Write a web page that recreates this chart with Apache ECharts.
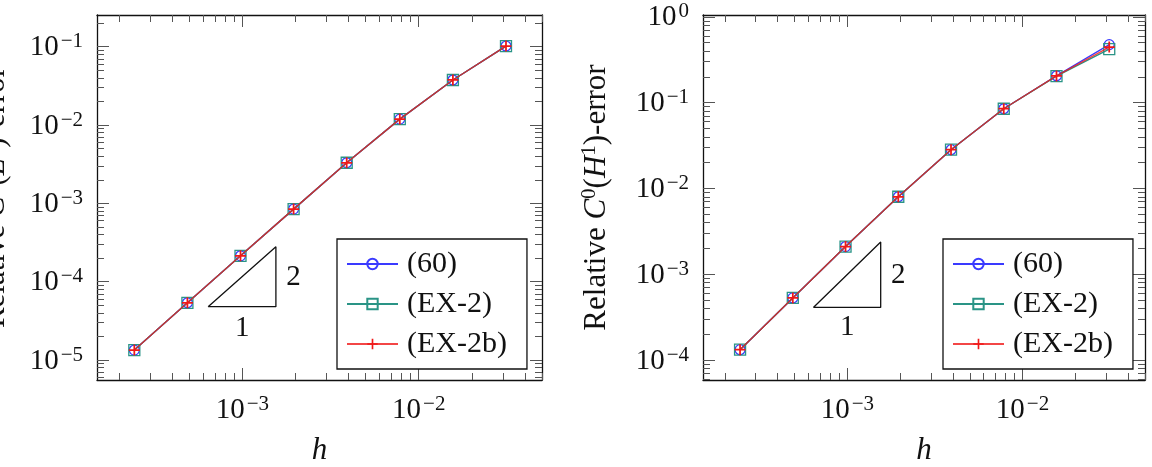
<!DOCTYPE html>
<html>
<head>
<meta charset="utf-8">
<script src="https://cdn.jsdelivr.net/npm/echarts@6/dist/echarts.min.js"></script>
<style>
  html, body { margin: 0; padding: 0; background: #fff; }
  #main { width: 1152px; height: 467px; }
</style>
</head>
<body>
<div id="main"></div>
<script>
// mesh sizes h = 1/4096 ... 1/32
var hValues = [1 / 4096, 1 / 2048, 1 / 1024, 1 / 512, 1 / 256, 1 / 128, 1 / 64, 1 / 32];
var seriesNames = ['(60)', '(EX-2)', '(EX-2b)'];

// relative C0(L2)-error (left panel)
var l2Err60 = [1.34e-5, 5.38e-5, 2.14e-4, 8.45e-4, 3.30e-3, 1.19e-2, 3.76e-2, 1.02e-1];
var l2ErrEx2 = [1.34e-5, 5.38e-5, 2.14e-4, 8.45e-4, 3.30e-3, 1.19e-2, 3.76e-2, 1.02e-1];
var l2ErrEx2b = [1.34e-5, 5.38e-5, 2.14e-4, 8.45e-4, 3.30e-3, 1.19e-2, 3.76e-2, 1.02e-1];

// relative C0(H1)-error (right panel)
var h1Err60 = [1.32e-4, 5.3e-4, 2.1e-3, 8.0e-3, 2.83e-2, 8.5e-2, 2.06e-1, 4.75e-1];
var h1ErrEx2 = [1.32e-4, 5.3e-4, 2.1e-3, 8.0e-3, 2.83e-2, 8.5e-2, 2.04e-1, 4.2e-1];
var h1ErrEx2b = [1.32e-4, 5.3e-4, 2.1e-3, 8.0e-3, 2.83e-2, 8.5e-2, 2.05e-1, 4.45e-1];

// axis ranges and tick values
var xRange = [1.5e-4, 0.05];
var yRangeL2 = [5.56e-6, 0.254];
var yRangeH1 = [5.85e-5, 1.052];
var xMajor = [1e-3, 1e-2];
var xMinor = [2e-4, 3e-4, 4e-4, 5e-4, 6e-4, 7e-4, 8e-4, 9e-4, 2e-3, 3e-3, 4e-3, 5e-3, 6e-3, 7e-3, 8e-3, 9e-3, 2e-2, 3e-2, 4e-2, 5e-2];
var yMajorL2 = [1e-5, 1e-4, 1e-3, 1e-2, 1e-1];
var yMinorL2 = [6e-6, 7e-6, 8e-6, 9e-6, 2e-5, 3e-5, 4e-5, 5e-5, 6e-5, 7e-5, 8e-5, 9e-5, 2e-4, 3e-4, 4e-4, 5e-4, 6e-4, 7e-4, 8e-4, 9e-4,
  2e-3, 3e-3, 4e-3, 5e-3, 6e-3, 7e-3, 8e-3, 9e-3, 2e-2, 3e-2, 4e-2, 5e-2, 6e-2, 7e-2, 8e-2, 9e-2, 2e-1];
var yMajorH1 = [1e-4, 1e-3, 1e-2, 1e-1, 1];
var yMinorH1 = [6e-5, 7e-5, 8e-5, 9e-5, 2e-4, 3e-4, 4e-4, 5e-4, 6e-4, 7e-4, 8e-4, 9e-4, 2e-3, 3e-3, 4e-3, 5e-3, 6e-3, 7e-3, 8e-3, 9e-3,
  2e-2, 3e-2, 4e-2, 5e-2, 6e-2, 7e-2, 8e-2, 9e-2, 0.2, 0.3, 0.4, 0.5, 0.6, 0.7, 0.8, 0.9];

// slope-2 triangle corners [h, error] and its labels
var triL2 = [[6.4e-4, 4.8e-5], [1.55e-3, 4.8e-5], [1.55e-3, 2.8e-4], [6.4e-4, 4.8e-5]];
var triLabelsL2 = [[1e-3, 2.55e-5, '1'], [1.95e-3, 1.12e-4, '2']];
var triH1 = [[6.4e-4, 4.1e-4], [1.55e-3, 4.1e-4], [1.55e-3, 2.38e-3], [6.4e-4, 4.1e-4]];
var triLabelsH1 = [[1e-3, 2.37e-4, '1'], [1.95e-3, 9.8e-4, '2']];

var FONT = "'Liberation Serif', 'DejaVu Serif', serif";
var INK = '#111';
var colors = ['#3a3aff', '#2a9486', '#f01818'];
var symbols = ['circle', 'rect', 'path://M4.2,0H5.8V4.2H10V5.8H5.8V10H4.2V5.8H0V4.2H4.2Z'];
var symbolSizes = [10, 11, 11];
var symbolFills = ['rgba(0,0,0,0)', 'rgba(0,0,0,0)', '#f01818'];

var richPow = {
  b: { fontFamily: FONT, fontSize: 29, lineHeight: 31, verticalAlign: 'bottom', color: INK },
  s: { fontFamily: FONT, fontSize: 21, lineHeight: 20, verticalAlign: 'top', color: INK, padding: [0, 0, 0, 2] }
};
var richName = {
  n: { fontFamily: FONT, fontSize: 31, lineHeight: 33, verticalAlign: 'bottom', color: INK },
  i: { fontFamily: FONT, fontSize: 31, fontStyle: 'italic', lineHeight: 33, verticalAlign: 'bottom', color: INK },
  s: { fontFamily: FONT, fontSize: 21, lineHeight: 20, verticalAlign: 'top', color: INK }
};

function powLabel(v) {
  var e = Math.round(Math.log10(v));
  return '{b|10}{s|' + (e < 0 ? '\u2212' + (-e) : e) + '}';
}

// 4 axes per direction: labelled main, its minor ticks, mirrored major, mirrored minor
function axisSet(dim, g, range, major, minor, name, nameGap) {
  var posA = dim === 'x' ? 'bottom' : 'left';
  var posB = dim === 'x' ? 'top' : 'right';
  function base(pos, ticks, len, line) {
    return {
      type: 'log', logBase: 10, gridIndex: g, position: pos, min: range[0], max: range[1],
      splitLine: { show: false },
      axisLine: { show: line, onZero: false, lineStyle: { color: INK, width: 1.3 } },
      axisTick: { show: true, inside: true, length: len, customValues: ticks, lineStyle: { color: '#555', width: 1 } },
      axisLabel: { show: false }
    };
  }
  var main = base(posA, major, 12, true);
  main.axisLabel = {
    show: true, customValues: major, margin: 14, formatter: powLabel, rich: richPow,
    showMinLabel: true, showMaxLabel: true, hideOverlap: false
  };
  main.name = name;
  main.nameLocation = 'middle';
  main.nameGap = nameGap;
  main.nameMoveOverlap = false;
  if (dim === 'x') {
    main.nameTextStyle = { fontFamily: FONT, fontSize: 31, fontStyle: 'italic', color: INK };
  } else {
    main.nameRotate = 90;
    main.nameTextStyle = { rich: richName };
  }
  return [main, base(posA, minor, 7, false), base(posB, major, 12, true), base(posB, minor, 7, false)];
}

function errorSeries(g, vals) {
  return vals.map(function (v, k) {
    return {
      name: seriesNames[k], type: 'line', xAxisIndex: g * 4, yAxisIndex: g * 4,
      data: hValues.map(function (h, i) { return [h, v[i]]; }),
      symbol: symbols[k], symbolSize: symbolSizes[k], showSymbol: true,
      lineStyle: { color: colors[k], width: 1.4, opacity: k === 2 ? 0.8 : 1 },
      itemStyle: { color: symbolFills[k], borderColor: colors[k], borderWidth: k === 2 ? 0 : 1.3 },
      z: 3 + k
    };
  });
}

function triangleSeries(g, corners, labels) {
  return [{
    type: 'line', xAxisIndex: g * 4, yAxisIndex: g * 4, data: corners, symbol: 'none', silent: true,
    lineStyle: { color: INK, width: 1.3 }, z: 2
  }, {
    type: 'scatter', xAxisIndex: g * 4, yAxisIndex: g * 4, data: labels, symbolSize: 0, silent: true,
    itemStyle: { color: 'rgba(0,0,0,0)', opacity: 1 },
    label: {
      show: true, position: [0, 0], align: 'center', verticalAlign: 'middle',
      fontFamily: FONT, fontSize: 29, color: INK, textBorderWidth: 0, opacity: 1,
      formatter: function (p) { return p.value[2]; }
    }
  }];
}

function legendFor(left) {
  return {
    data: seriesNames, orient: 'vertical', left: left, top: 239,
    backgroundColor: '#fff', borderColor: INK, borderWidth: 1.3,
    padding: [10, 20, 10, 9], itemWidth: 51, itemHeight: 13, itemGap: 10,
    selectedMode: false,
    textStyle: { fontFamily: FONT, fontSize: 30, lineHeight: 30, color: INK, padding: [0, 0, 0, 4] }
  };
}

var chart = echarts.init(document.getElementById('main'));
chart.setOption({
  backgroundColor: '#fff',
  animation: false,
  grid: [
    { left: 97, top: 15, width: 445, height: 365, containLabel: false, outerBoundsMode: 'none' },
    { left: 703, top: 15, width: 442, height: 365, containLabel: false, outerBoundsMode: 'none' }
  ],
  legend: [legendFor(337), legendFor(943)],
  xAxis: axisSet('x', 0, xRange, xMajor, xMinor, 'h', 55)
    .concat(axisSet('x', 1, xRange, xMajor, xMinor, 'h', 55)),
  yAxis: axisSet('y', 0, yRangeL2, yMajorL2, yMinorL2,
    '{n|Relative }{i|C}{s|0}{n|(}{i|L}{s|2}{n|)-error}', 86)
    .concat(axisSet('y', 1, yRangeH1, yMajorH1, yMinorH1,
      '{n|Relative }{i|C}{s|0}{n|(}{i|H}{s|1}{n|)-error}', 91)),
  series: triangleSeries(0, triL2, triLabelsL2)
    .concat(errorSeries(0, [l2Err60, l2ErrEx2, l2ErrEx2b]))
    .concat(triangleSeries(1, triH1, triLabelsH1))
    .concat(errorSeries(1, [h1Err60, h1ErrEx2, h1ErrEx2b]))
});
</script>
</body>
</html>
